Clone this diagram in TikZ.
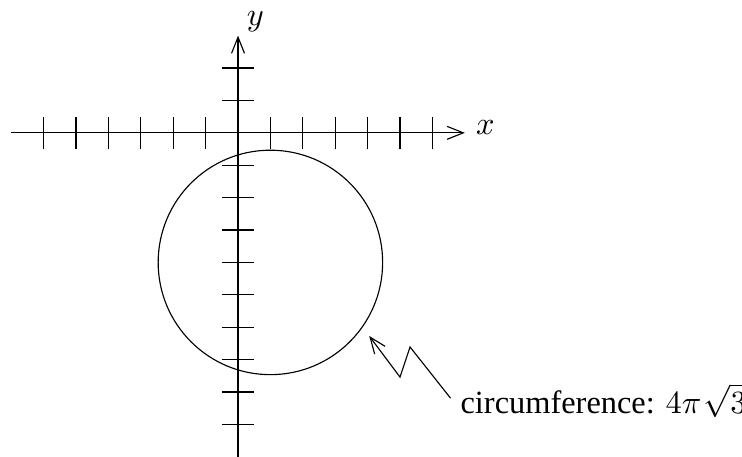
\documentclass[tikz,border=0pt]{standalone}
\usepackage[no-math]{fontspec}
\setmainfont{Liberation Serif}
\usetikzlibrary{arrows.meta}
\begin{document}
\begin{tikzpicture}[x=10pt,y=10pt,
  ln/.style={line width=0.35pt},
  axarrow/.style={ln,-{Straight Barb[length=5pt,width=4pt]}},
  tick/.style={ln}]
\useasboundingbox (-7.346,-10) rectangle (15.556,4.1);
% axes
\coordinate (xs) at (-7,0);
\coordinate (xe) at (7,0);
\coordinate (ys) at (0,-10);
\coordinate (ye) at (0,3);
\draw[axarrow] (xs) -- (xe);
\draw[axarrow] (ys) -- (ye);
\foreach \i in {-6,...,-1,1,2,...,6} \draw[tick] (\i,-0.5) -- (\i,0.5);
\foreach \j in {-9,...,-1,1,2} \draw[tick] (-0.5,\j) -- (0.5,\j);
\node[anchor=base west,inner sep=0pt] (xl) at (7.33,-0.05) {$x$};
\node[anchor=base west,inner sep=0pt] (yl) at (0.25,3.3) {$y$};
% circle
\node[ln,draw,circle,minimum size=69.28pt,inner sep=0pt] (c) at (1,-4) {};
% label
\node[anchor=base west,inner sep=0pt] (lab) at (6.85,-8.65) {circumference: $4\pi\mskip1mu\sqrt{3}$};
\coordinate (tip) at (4.05,-6.27);
\coordinate (z1) at (5.0,-7.54);
\coordinate (z2) at (5.31,-6.61);
\coordinate (le) at (6.56,-8.19);
\draw[axarrow] (le) -- (z2) -- (z1) -- (tip);
\end{tikzpicture}
\end{document}
